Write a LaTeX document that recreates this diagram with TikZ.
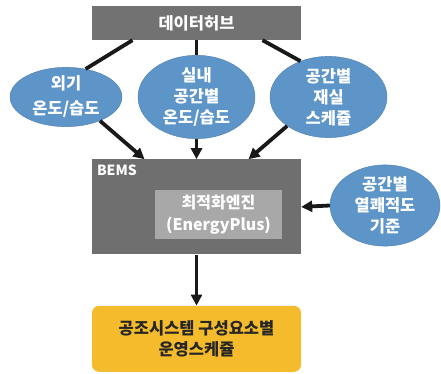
\documentclass[tikz,border=0pt]{standalone}
\usepackage{fontspec}
\setmainfont{Noto Sans CJK KR}
\usepackage{xcolor}
\usepackage{tikz}
\usetikzlibrary{arrows.meta,positioning,shapes.geometric}

\definecolor{hubgray}{HTML}{727272}
\definecolor{bemsgray}{HTML}{6F6F6F}
\definecolor{enggray}{HTML}{A9A8A9}
\definecolor{ellblue}{HTML}{5E95C9}
\definecolor{ellline}{HTML}{4A7DAE}
\definecolor{outgold}{HTML}{F4BC2C}

\begin{document}
\begin{tikzpicture}[
    x=1pt, y=1pt,
    txt/.style={font=\fontsize{16.5}{21}\selectfont\bfseries, align=center},
    box/.style={txt, inner sep=0pt, text=white},
    hubbox/.style={box, fill=hubgray, minimum width=209pt, minimum height=34pt},
    bemsbox/.style={box, fill=bemsgray, minimum width=209pt, minimum height=95pt},
    engbox/.style={box, fill=enggray, minimum width=127pt, minimum height=49pt, font=\fontsize{16}{22}\selectfont\bfseries},
    outbox/.style={txt, fill=outgold, rounded corners=7pt, text=black!85, minimum width=209pt, minimum height=66pt, inner sep=0pt},
    src/.style={ellipse, txt, draw=ellline, fill=ellblue, text=white, inner sep=0pt},
    link/.style={line width=3.8pt, black!90},
    arrow/.style={link, -{Triangle[length=11pt,width=11pt]}}
]
\useasboundingbox (0,0) rectangle (441,373);

\node[hubbox] (hub) at (196.5,350) {데이터허브};
\node[bemsbox, below=119pt of hub] (bems) {};
\node[box, font=\fontsize{14}{16}\selectfont\bfseries, anchor=north west]
    (bemslabel) at ([xshift=5pt,yshift=-5pt]bems.north west) {BEMS};
\node[engbox] (engine) at (218.5,158.5) {최적화엔진\\(EnergyPlus)};
\node[outbox, below=51pt of bems] (out) {공조시스템 구성요소별\\운영스케쥴};

% data sources
\node[src, minimum width=112pt, minimum height=59pt, font=\fontsize{16.5}{25}\selectfont\bfseries] (outdoor) at (66,276) {외기\\온도/습도};
\node[src, minimum width=117pt, minimum height=57pt] (indoor) at (196.5,276) {실내\\공간별\\온도/습도};
\node[src, minimum width=117pt, minimum height=57pt] (occup) at (328.5,276) {공간별\\재실\\스케쥴};
\node[src, minimum width=110pt, minimum height=75pt] (comfort) at (385,167.5) {공간별\\열쾌적도\\기준};

\draw[link] ([xshift=-64pt]hub.south) -- (outdoor.55);
\draw[link] (hub.south) -- (indoor.north);
\draw[link] ([xshift=66pt]hub.south) -- (occup.128);
\draw[arrow] (outdoor.-35) -- ([xshift=-52pt]bems.north);
\draw[arrow] (indoor.south) -- (bems.north);
\draw[arrow] (occup.215) -- ([xshift=52pt]bems.north);
\draw[arrow] (comfort.west) -- (bems.east);
\draw[arrow] (bems.south) -- (out.north);
\end{tikzpicture}
\end{document}
